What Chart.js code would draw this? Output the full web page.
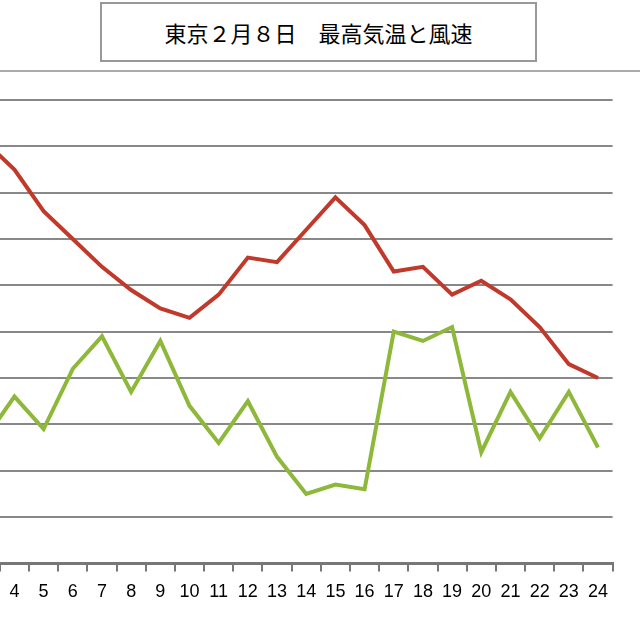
<!DOCTYPE html>
<html><head><meta charset="utf-8">
<script src="https://cdn.jsdelivr.net/npm/chart.js@4"></script>
<style>
body{margin:0;width:640px;height:640px;overflow:hidden;background:#fff;position:relative;font-family:"Noto Sans CJK JP",sans-serif}
#title{position:absolute;left:100px;top:2px;width:437px;height:60px;border:2px solid #999;box-sizing:border-box;text-align:center;line-height:56px;font-size:22px;color:#000}
#frame{position:absolute;left:0;top:70px;width:640px;height:0;border-top:2px solid #aaa}
#wrap{position:absolute;left:-88px;top:95px;width:706px;height:518px}
</style></head><body>
<div id="title">東京２月８日　最高気温と風速</div>
<div id="frame"></div>
<div id="wrap"><canvas id="c"></canvas></div>
<script>
// hours 1..24
var hours = ['1','2','3','4','5','6','7','8','9','10','11','12','13','14','15','16','17','18','19','20','21','22','23','24'];
var maxTemp = [9.5,9.3,9.1,8.5,7.6,7.0,6.4,5.9,5.5,5.3,5.8,6.6,6.5,7.2,7.9,7.3,6.3,6.4,5.8,6.1,5.7,5.1,4.3,4.0];
var windSpeed = [2.5,2.9,2.7,3.6,2.9,4.2,4.9,3.7,4.8,3.4,2.6,3.5,2.3,1.5,1.7,1.6,5.0,4.8,5.1,2.4,3.7,2.7,3.7,2.5];

var ctx = document.getElementById('c').getContext('2d');
new Chart(ctx, {
    type: 'line',
    data: {
        labels: hours,
        datasets: [
            {data: maxTemp, borderColor: '#c0392b', borderWidth: 4, pointRadius: 0, tension: 0},
            {data: windSpeed, borderColor: '#8db83a', borderWidth: 4, pointRadius: 0, tension: 0}
        ]
    },
    options: {
        responsive: true,
        maintainAspectRatio: false,
        animation: false,
        layout: {padding: {top: 5, left: 0, right: 0}},
        plugins: {legend: {display: false}, tooltip: {enabled: false}},
        scales: {
            y: {
                min: 0, max: 10,
                ticks: {display: false, stepSize: 1},
                border: {display: false},
                grid: {color: '#888', lineWidth: 2, drawTicks: false}
            },
            x: {
                offset: true,
                border: {color: '#777', width: 3},
                grid: {drawOnChartArea: false, offset: true, color: '#777', tickLength: 8, lineWidth: 2},
                ticks: {color: '#000', font: {family: 'Liberation Sans Narrow, Liberation Sans', size: 18}, padding: 10, maxRotation: 0, autoSkip: false}
            }
        }
    }
});
</script>
</body></html>
